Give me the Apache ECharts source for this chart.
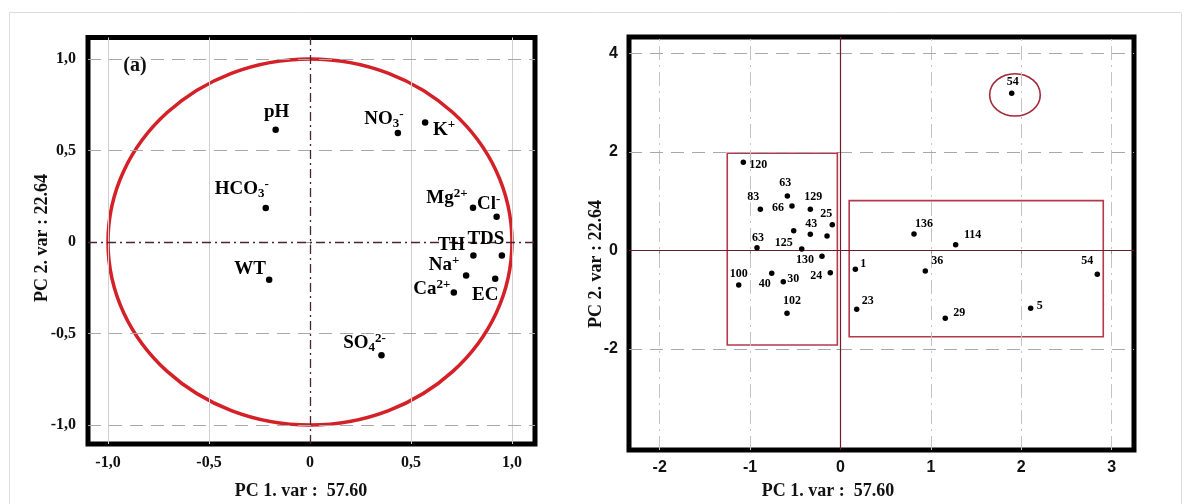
<!DOCTYPE html>
<html>
<head>
<meta charset="utf-8">
<script src="https://cdn.jsdelivr.net/npm/echarts@6/dist/echarts.min.js"></script>
<style>
  html, body { margin: 0; padding: 0; background: #fff; }
  #chart { width: 1188px; height: 504px; }
</style>
</head>
<body>
<div id="chart"></div>
<script>
// ---- (a) variable loadings on PC1 / PC2 ----
const variables = ['pH', 'NO3-', 'K+', 'HCO3-', 'Mg2+', 'Cl-', 'TDS', 'TH', 'Na+', 'EC', 'Ca2+', 'WT', 'SO42-'];
const loadingPC1 = [-0.170, 0.435, 0.570, -0.219, 0.807, 0.924, 0.950, 0.809, 0.773, 0.917, 0.712, -0.202, 0.354];
const loadingPC2 = [0.613, 0.595, 0.652, 0.185, 0.187, 0.138, -0.074, -0.074, -0.183, -0.201, -0.276, -0.207, -0.619];
const loadingTicks = [-1, -0.5, 0, 0.5, 1];
const unitCircle = [0, 0, 1];

// ---- sample scores on PC1 / PC2 ----
const samples = ['120', '63', '83', '66', '129', '25', '', '43', '', '63', '125', '130', '24', '40', '100', '30', '102',
                 '1', '23', '136', '114', '36', '29', '5', '54', '54'];
const scorePC1 = [-1.075, -0.588, -0.887, -0.537, -0.334, -0.091, -0.518, -0.334, -0.149, -0.924, -0.429, -0.205, -0.113,
                  -0.761, -1.126, -0.633, -0.592, 0.164, 0.179, 0.813, 1.274, 0.938, 1.159, 2.104, 2.841, 1.894];
const scorePC2 = [1.791, 1.106, 0.835, 0.902, 0.835, 0.522, 0.400, 0.327, 0.293, 0.055, 0.028, -0.120, -0.453,
                  -0.465, -0.703, -0.636, -1.278, -0.384, -1.197, 0.333, 0.116, -0.419, -1.380, -1.177, -0.486, 3.193];
const scoreTicksX = [-2, -1, 0, 1, 2, 3];
const scoreTicksY = [-2, 0, 2, 4];
const clusterBoxes = [[-1.253, 1.974, -0.035, -1.923], [0.096, 1.012, 2.907, -1.754]];
const outlierRing = [1.93, 3.16, 0.28, 0.43];

// label placement (pixel offsets from each dot)
const loadingLabelOffset = {
  'pH': [1, -18], 'NO3-': [-14, -14], 'K+': [19, 7], 'HCO3-': [-24, -19], 'Mg2+': [-26, -10], 'Cl-': [-8, -13],
  'TDS': [-16, -16], 'TH': [-22, -10], 'Na+': [-22, -10], 'EC': [-10, 16], 'Ca2+': [-22, -3], 'WT': [-19, -11],
  'SO42-': [-17, -12]
};
const loadingRich = {
  'pH': '{b|pH}', 'NO3-': '{b|NO}{sub|3}{sup|-}', 'K+': '{b|K}{sup|+}', 'HCO3-': '{b|HCO}{sub|3}{sup|-}',
  'Mg2+': '{b|Mg}{sup|2+}', 'Cl-': '{b|Cl}{sup|-}', 'TDS': '{b|TDS}', 'TH': '{b|TH}', 'Na+': '{b|Na}{sup|+}',
  'EC': '{b|EC}', 'Ca2+': '{b|Ca}{sup|2+}', 'WT': '{b|WT}', 'SO42-': '{b|SO}{sub|4}{sup|2-}'
};
const sampleLabelOffset = [
  [15, 3], [-2, -13], [-7, -12], [-14, 2], [3, -12], [-6, -11], [0, 0], [1, -10], [0, 0], [1, -10], [-18, -6], [-17, 4],
  [-14, 3], [-7, 11], [0, -11], [10, -3], [5, -12], [8, -5], [11, -8], [10, -10], [17, -10], [12, -10], [14, -5],
  [9, -2], [-10, -13], [1, -11]
];

const serif = '"Liberation Serif", "DejaVu Serif", serif';
const sans = '"Liberation Sans", Arial, sans-serif';

const commaFmt = v => (v === 0 ? '0' : v.toFixed(1).replace('.', ','));

function vLines(values, style) { return values.map(v => ({ xAxis: v, lineStyle: style })); }
function hLines(values, style) { return values.map(v => ({ yAxis: v, lineStyle: style })); }

const greyDash = { color: '#a8a8a8', width: 1, type: [13, 8] };
const greySolid = { color: '#cfcfcf', width: 1, type: 'solid' };
const darkDash = { color: '#4a2530', width: 1.3, type: [9, 4, 2, 4] };
const greyDashV = { color: '#c4c4c4', width: 1, type: [14, 5, 2, 5] };
const maroon = { color: '#6e1c2c', width: 1.2, type: 'solid' };

const richBase = { fontFamily: serif, fontWeight: 'bold', color: '#000', textBorderWidth: 0, textBorderColor: 'transparent' };

const chart = echarts.init(document.getElementById('chart'), null, { renderer: 'canvas' });

const option = {
  animation: false,
  backgroundColor: '#fff',
  grid: [
    { left: 88, right: 653, top: 37.5, bottom: 60, show: true, borderColor: '#000', borderWidth: 5, backgroundColor: 'transparent' },
    { left: 629, right: 54, top: 37, bottom: 54, show: true, borderColor: '#000', borderWidth: 5, backgroundColor: 'transparent' }
  ],
  xAxis: [
    {
      gridIndex: 0, type: 'value', min: -1.099, max: 1.114,
      axisLine: { show: false }, splitLine: { show: false },
      axisTick: { show: true, customValues: loadingTicks, length: 4, lineStyle: { color: '#999' } },
      axisLabel: { customValues: loadingTicks, formatter: commaFmt, margin: 11, fontFamily: serif, fontWeight: 'bold', fontSize: 16, color: '#111' }
    },
    {
      gridIndex: 1, type: 'value', min: -2.34, max: 3.247,
      axisLine: { show: false }, splitLine: { show: false },
      axisTick: { show: true, customValues: scoreTicksX, length: 4, lineStyle: { color: '#999' } },
      axisLabel: { customValues: scoreTicksX, margin: 10, fontFamily: sans, fontWeight: 'bold', fontSize: 16, color: '#111' }
    }
  ],
  yAxis: [
    {
      gridIndex: 0, type: 'value', min: -1.104, max: 1.117,
      axisLine: { show: false }, splitLine: { show: false },
      axisTick: { show: true, customValues: loadingTicks, length: 4, lineStyle: { color: '#999' } },
      axisLabel: { customValues: loadingTicks, formatter: commaFmt, margin: 12, fontFamily: serif, fontWeight: 'bold', fontSize: 16, color: '#111' }
    },
    {
      gridIndex: 1, type: 'value', min: -4.057, max: 4.337,
      axisLine: { show: false }, splitLine: { show: false },
      axisTick: { show: true, customValues: scoreTicksY, length: 4, lineStyle: { color: '#999' } },
      axisLabel: { customValues: scoreTicksY, margin: 11, fontFamily: sans, fontWeight: 'bold', fontSize: 16, color: '#111' }
    }
  ],
  graphic: [
    { type: 'rect', shape: { x: 9.5, y: 12.5, width: 1172, height: 500 }, style: { fill: 'none', stroke: '#dcdcdc', lineWidth: 1 }, silent: true, z: -10 },
    { type: 'text', x: 135, y: 66, style: { text: '(a)', font: 'bold 20px ' + serif, fill: '#111', align: 'center', verticalAlign: 'middle' } },
    { type: 'text', x: 301, y: 491, style: { text: 'PC 1. var :  57.60', font: 'bold 18px ' + serif, fill: '#111', align: 'center', verticalAlign: 'middle' } },
    { type: 'text', x: 828, y: 491, style: { text: 'PC 1. var :  57.60', font: 'bold 18px ' + serif, fill: '#111', align: 'center', verticalAlign: 'middle' } },
    { type: 'text', x: 42, y: 238, rotation: Math.PI / 2, style: { text: 'PC 2. var : 22.64', font: 'bold 18px ' + serif, fill: '#111', align: 'center', verticalAlign: 'middle' } },
    { type: 'text', x: 596, y: 264, rotation: Math.PI / 2, style: { text: 'PC 2. var : 22.64', font: 'bold 18px ' + serif, fill: '#111', align: 'center', verticalAlign: 'middle' } }
  ],
  series: [
    // reference lines of the loadings plot
    {
      type: 'line', xAxisIndex: 0, yAxisIndex: 0, data: [], silent: true, z: 1,
      markLine: {
        silent: true, symbol: ['none', 'none'], label: { show: false }, animation: false,
        data: [].concat(
          vLines([-1, -0.5, 0.5, 1], greySolid),
          hLines([-1, -0.5, 0.5, 1], greyDash),
          vLines([0], darkDash),
          hLines([0], darkDash)
        )
      }
    },
    // unit correlation circle
    {
      type: 'custom', xAxisIndex: 0, yAxisIndex: 0, silent: true, z: 2,
      data: [unitCircle],
      renderItem: (params, api) => {
        const c = api.coord([api.value(0), api.value(1)]);
        const ex = api.coord([api.value(0) + api.value(2), api.value(1)]);
        const ey = api.coord([api.value(0), api.value(1) + api.value(2)]);
        return {
          type: 'ellipse',
          shape: { cx: c[0], cy: c[1], rx: ex[0] - c[0], ry: c[1] - ey[1] },
          style: { fill: 'none', stroke: '#d42027', lineWidth: 3.5 }
        };
      }
    },
    // variable loadings
    {
      type: 'scatter', xAxisIndex: 0, yAxisIndex: 0, z: 5,
      symbol: 'circle', symbolSize: 6.5, itemStyle: { color: '#000', opacity: 1 },
      data: variables.map((n, i) => ({ name: n, value: [loadingPC1[i], loadingPC2[i]], label: { offset: loadingLabelOffset[n] } })),
      label: {
        show: true, position: 'inside', align: 'center', verticalAlign: 'middle',
        color: '#000', textBorderWidth: 0, textBorderColor: 'transparent',
        formatter: p => loadingRich[p.name],
        rich: {
          b: Object.assign({}, richBase, { fontSize: 19, lineHeight: 22, verticalAlign: 'middle' }),
          sub: Object.assign({}, richBase, { fontSize: 13, lineHeight: 22, verticalAlign: 'bottom' }),
          sup: Object.assign({}, richBase, { fontSize: 13, lineHeight: 22, verticalAlign: 'top' })
        }
      }
    },
    // reference lines of the scores plot
    {
      type: 'line', xAxisIndex: 1, yAxisIndex: 1, data: [], silent: true, z: 1,
      markLine: {
        silent: true, symbol: ['none', 'none'], label: { show: false }, animation: false,
        data: [].concat(
          vLines([-2, -1, 1, 2, 3], greyDashV),
          hLines([-2, 2, 4], greyDash),
          vLines([0], maroon),
          hLines([0], maroon)
        )
      }
    },
    // cluster boxes
    {
      type: 'custom', xAxisIndex: 1, yAxisIndex: 1, silent: true, z: 2,
      data: clusterBoxes,
      renderItem: (params, api) => {
        const p1 = api.coord([api.value(0), api.value(1)]);
        const p2 = api.coord([api.value(2), api.value(3)]);
        return {
          type: 'rect',
          shape: { x: p1[0], y: p1[1], width: p2[0] - p1[0], height: p2[1] - p1[1] },
          style: { fill: 'none', stroke: '#b5394b', lineWidth: 1.6 }
        };
      }
    },
    // ring around the outlying sample
    {
      type: 'custom', xAxisIndex: 1, yAxisIndex: 1, silent: true, z: 2,
      data: [outlierRing],
      renderItem: (params, api) => {
        const c = api.coord([api.value(0), api.value(1)]);
        const ex = api.coord([api.value(0) + api.value(2), api.value(1)]);
        const ey = api.coord([api.value(0), api.value(1) + api.value(3)]);
        return {
          type: 'ellipse',
          shape: { cx: c[0], cy: c[1], rx: ex[0] - c[0], ry: c[1] - ey[1] },
          style: { fill: 'none', stroke: '#a3283a', lineWidth: 1.6 }
        };
      }
    },
    // sample scores
    {
      type: 'scatter', xAxisIndex: 1, yAxisIndex: 1, z: 5,
      symbol: 'circle', symbolSize: 5.5, itemStyle: { color: '#000', opacity: 1 },
      data: samples.map((n, i) => ({ name: n, value: [scorePC1[i], scorePC2[i]], label: { offset: sampleLabelOffset[i] } })),
      label: {
        show: true, position: 'inside', align: 'center', verticalAlign: 'middle',
        formatter: p => p.name,
        fontFamily: serif, fontWeight: 'bold', fontSize: 12, color: '#000',
        textBorderWidth: 0, textBorderColor: 'transparent'
      }
    }
  ]
};

chart.setOption(option);
</script>
</body>
</html>
